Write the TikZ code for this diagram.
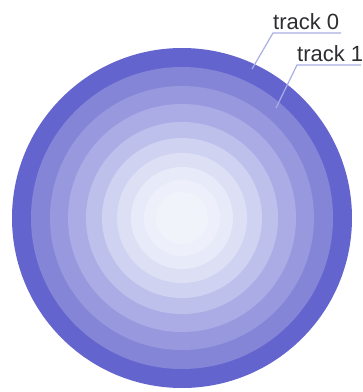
\documentclass[tikz,border=0pt]{standalone}
\usepackage{fontspec}
\setmainfont{Liberation Sans}
\definecolor{leader}{RGB}{170,174,228}
\definecolor{labeltext}{RGB}{45,45,50}
\definecolor{r0}{RGB}{100,100,206}
\definecolor{r1}{RGB}{133,133,216}
\definecolor{r2}{RGB}{152,152,222}
\definecolor{r3}{RGB}{171,172,229}
\definecolor{r4}{RGB}{190,192,236}
\definecolor{r5}{RGB}{207,210,241}
\definecolor{r6}{RGB}{221,224,245}
\definecolor{r7}{RGB}{231,234,248}
\definecolor{r8}{RGB}{237,240,250}
\definecolor{r9}{RGB}{241,243,251}
\begin{document}
\begin{tikzpicture}[x=1pt,y=-1pt,
  ring/.style={fill=#1,draw=none},
  leaderline/.style={draw=leader,line width=1.2pt},
  tracklabel/.style={inner sep=0pt,anchor=base west,text=labeltext,font=\fontsize{22}{22}\selectfont}]
\useasboundingbox (0,0) rectangle (363,392);
\coordinate (c) at (182,218);
\foreach \r/\col in {170/r0,151/r1,132/r2,114/r3,96/r4,80/r5,65/r6,51/r7,38/r8,26/r9}{
  \fill[ring=\col] (c) circle[radius=\r];
}
\node[tracklabel] (t0) at (273,29) {track 0};
\node[tracklabel] (t1) at (297,61) {track 1};
\coordinate (t0u) at (341,33);
\coordinate (t0k) at (273,33);
\coordinate (t0e) at (252,69);
\coordinate (t1u) at (361,65);
\coordinate (t1k) at (297,65);
\coordinate (t1e) at (276,108);
\draw[leaderline] (t0u) -- (t0k) -- (t0e);
\draw[leaderline] (t1u) -- (t1k) -- (t1e);
\end{tikzpicture}
\end{document}
